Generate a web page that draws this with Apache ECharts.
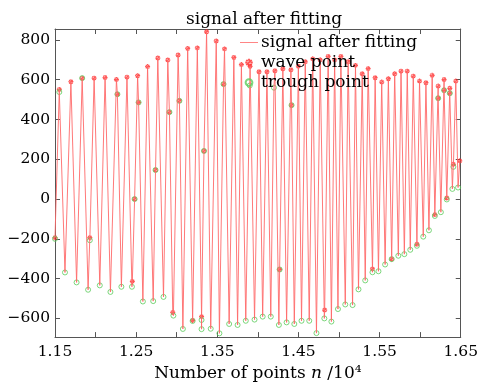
<!DOCTYPE html>
<html>
<head>
<meta charset="utf-8">
<script src="https://cdn.jsdelivr.net/npm/echarts@6/dist/echarts.min.js"></script>
<style>
  html, body { margin: 0; padding: 0; background: #fff; }
  #chart { width: 481px; height: 387px; }
</style>
</head>
<body>
<div id="chart"></div>
<script>
// crests of the fitted signal (x in 10^4 points)
var peakX = [1.1553, 1.1696, 1.1835, 1.1982, 1.2117, 1.2257, 1.2387, 1.2518, 1.2641, 1.2767,
  1.2890, 1.3017, 1.3135, 1.3254, 1.3368, 1.3487, 1.3589, 1.3704, 1.3797, 1.3904,
  1.4014, 1.4112, 1.4210, 1.4308, 1.4407, 1.4499, 1.4584, 1.4676, 1.4768, 1.4866,
  1.4946, 1.5023, 1.5112, 1.5203, 1.5286, 1.5359, 1.5445, 1.5526, 1.5608, 1.5686,
  1.5764, 1.5841, 1.5915, 1.5992, 1.6071, 1.6148, 1.6222, 1.6295, 1.6365, 1.6439]
var peakY = [551, 590, 608, 608, 611, 601, 613, 620, 666, 709,
  699, 724, 757, 760, 841, 795, 755, 712, 676, 667,
  640, 640, 645, 655, 650, 668, 690, 705, 700, 717,
  700, 717, 690, 672, 630, 656, 610, 588, 605, 630,
  643, 643, 618, 593, 585, 622, 568, 601, 557, 593]

// valleys of the fitted signal
var valleyX = [1.1500, 1.1623, 1.1766, 1.1908, 1.2052, 1.2183, 1.2318, 1.2448, 1.2583, 1.2710,
  1.2837, 1.2959, 1.3076, 1.3196, 1.3306, 1.3419, 1.3526, 1.3646, 1.3750, 1.3851,
  1.3959, 1.4059, 1.4159, 1.4259, 1.4354, 1.4449, 1.4538, 1.4633, 1.4722, 1.4819,
  1.4906, 1.4987, 1.5077, 1.5167, 1.5240, 1.5323, 1.5412, 1.5486, 1.5568, 1.5649,
  1.5731, 1.5805, 1.5878, 1.5960, 1.6038, 1.6108, 1.6181, 1.6255, 1.6328, 1.6397, 1.6467]
var valleyY = [-200, -369, -419, -456, -434, -467, -441, -441, -515, -513,
  -492, -586, -653, -613, -654, -652, -675, -628, -633, -612,
  -606, -591, -591, -633, -620, -628, -612, -612, -674, -600,
  -616, -553, -530, -533, -454, -409, -368, -363, -329, -302,
  -285, -277, -255, -235, -189, -157, -85, -66, -2, 51, 58]

// extra detections on the edges of the signal
var extraWaveX = [1.1500, 1.1929, 1.2269, 1.2453, 1.2481, 1.2530, 1.2739, 1.2910, 1.2951, 1.3033,
  1.3196, 1.3306, 1.3336, 1.3577, 1.4268, 1.4415, 1.4823, 1.5412, 1.5649, 1.5960,
  1.6181, 1.6222, 1.6295, 1.6328, 1.6365, 1.6409, 1.6488]
var extraWaveY = [-194, -194, 527, -414, 0, 486, 146, 437, -570, 494,
  -610, -591, 242, 578, -354, 472, -558, -351, -302, -227,
  -78, 507, 547, 5, 532, 175, 192]
var extraTroughX = [1.1553, 1.1835, 1.1929, 1.2269, 1.2481, 1.2530, 1.2739, 1.2910, 1.3033, 1.3306,
  1.3336, 1.3577, 1.3900, 1.4198, 1.4268, 1.4415, 1.6222, 1.6295, 1.6365, 1.6409]
var extraTroughY = [538, 608, -207, 527, 0, 486, 146, 437, 494, -608,
  242, 578, 571, 560, -354, 472, 507, 547, 532, 162]

var FONT = 'DejaVu Serif'

function pairs (xs, ys) {
  var out = []
  xs.forEach(function (x, i) { out.push([x, ys[i]]) })
  return out
}

var wavePts = pairs(peakX, peakY).concat(pairs(extraWaveX, extraWaveY))
var troughPts = pairs(valleyX, valleyY).concat(pairs(extraTroughX, extraTroughY))
var signalPts = wavePts.concat(troughPts).sort(function (a, b) { return a[0] - b[0] })

var starShape = 'M-2.5,-10L2.5,-10L2.5,10L-2.5,10Z M-10,-2.5L10,-2.5L10,2.5L-10,2.5Z ' +
  'M-8.8,-5.3L5.3,8.8L8.8,5.3L-5.3,-8.8Z M5.3,-8.8L8.8,-5.3L-5.3,8.8L-8.8,5.3Z'
var starPath = 'path://' + starShape
// legend icons: padded with empty move-to points so the glyph stays small
var pad = 'M-24,-20L-24,-20M24,20L24,20'
var starIcon = 'path://' + pad + starShape
var ringIcon = 'path://' + pad + 'M-9,0A9,9 0 1,1 9,0A9,9 0 1,1 -9,0Z'
var lineIcon = 'path://' + pad + 'M-24,-1L24,-1L24,1L-24,1Z'

var axisCol = '#555'
var xBase = {
  type: 'value', min: 1.15, max: 1.65, interval: 0.05,
  axisLine: { show: true, onZero: false, lineStyle: { color: axisCol, width: 1 } },
  axisTick: { show: true, inside: true, length: 5, lineStyle: { color: axisCol } },
  splitLine: { show: false }
}
var yBase = {
  type: 'value', min: -694, max: 855, splitNumber: 8,
  axisLine: { show: true, onZero: false, lineStyle: { color: axisCol, width: 1 } },
  axisTick: { show: true, inside: true, length: 5, lineStyle: { color: axisCol } },
  splitLine: { show: false }
}

var chart = echarts.init(document.getElementById('chart'))
chart.setOption({
  animation: false,
  backgroundColor: '#fff',
  title: {
    text: 'signal after fitting',
    left: 181, top: 6,
    textStyle: { fontFamily: FONT, fontSize: 17, fontWeight: 'normal', color: '#000' }
  },
  legend: {
    orient: 'vertical', left: 234, top: 29,
    itemWidth: 18, itemHeight: 15, itemGap: 3,
    textStyle: { fontFamily: FONT, fontSize: 17, color: '#000', padding: [0, 0, 0, -2] },
    data: [
      { name: 'signal after fitting', icon: lineIcon, itemStyle: { color: '#ff5c5c', borderWidth: 0 } },
      { name: 'wave point', icon: starIcon },
      { name: 'trough point', icon: ringIcon }
    ]
  },
  grid: { left: 55, right: 18, top: 29, bottom: 46 },
  xAxis: [
    Object.assign({}, xBase, {
      position: 'bottom',
      name: 'Number of points {i|n} /10⁴',
      nameLocation: 'middle', nameGap: 25,
      nameTextStyle: {
        fontFamily: FONT, fontSize: 17, color: '#000',
        rich: { i: { fontFamily: FONT, fontSize: 17, fontStyle: 'italic', color: '#000' } }
      },
      axisLabel: {
        color: '#000', fontFamily: FONT, fontSize: 15.5, margin: 7,
        formatter: function (v) {
          return Math.round(v * 100) % 10 === 5 ? v.toFixed(2) : ''
        }
      }
    }),
    Object.assign({}, xBase, { position: 'top', axisLabel: { show: false } })
  ],
  yAxis: [
    Object.assign({}, yBase, {
      position: 'left',
      axisLabel: {
        color: '#000', fontFamily: FONT, fontSize: 15.5, margin: 5,
        formatter: function (v) {
          return Math.round(v) % 200 === 0 ? String(Math.round(v)).replace('-', '\u2212') : ''
        }
      }
    }),
    Object.assign({}, yBase, { position: 'right', axisLabel: { show: false } })
  ],
  series: [
    {
      name: 'signal after fitting',
      type: 'line',
      data: signalPts,
      symbol: 'none',
      lineStyle: { color: '#ff6a6a', width: 0.9 },
      itemStyle: { color: '#ff5c5c' },
      clip: true
    },
    {
      name: 'wave point',
      type: 'scatter',
      data: wavePts,
      symbol: starPath,
      symbolSize: 5,
      itemStyle: { color: '#ff2a2a' }
    },
    {
      name: 'trough point',
      type: 'scatter',
      data: troughPts,
      symbol: 'circle',
      symbolSize: 5,
      itemStyle: { color: 'rgba(0,0,0,0)', borderColor: '#5ccc5c', borderWidth: 1 }
    }
  ]
})
</script>
</body>
</html>
